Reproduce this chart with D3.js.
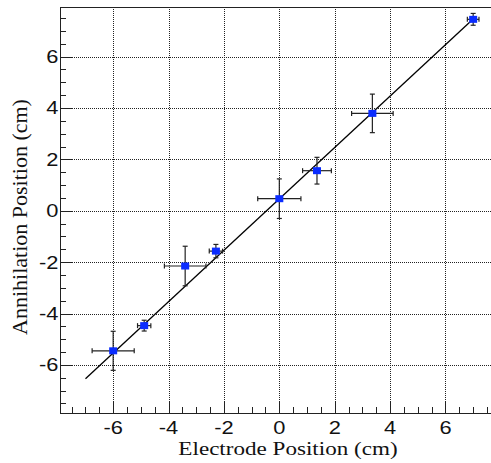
<!DOCTYPE html>
<html>
<head>
<meta charset="utf-8">
<script src="https://cdn.jsdelivr.net/npm/d3@7"></script>
<style>
  html, body { margin: 0; padding: 0; background: #ffffff; }
  svg { display: block; }
  .tick-label { font-family: "Liberation Sans", Arial, sans-serif; font-size: 17.5px; fill: #111; }
  .axis-title { font-family: "Liberation Serif", "Times New Roman", serif; font-size: 21px; fill: #111; }
</style>
</head>
<body>
<svg id="chart" width="491" height="463"></svg>
<script>
// Measured positions: electrode position vs reconstructed annihilation position (cm)
const electrodePos   = [-6.0, -4.88, -3.40, -2.29, 0.0, 1.36, 3.36, 7.0];
const electrodeErr   = [0.76, 0.24, 0.75, 0.24, 0.78, 0.52, 0.75, 0.21];
const annihilPos     = [-5.45, -4.47, -2.15, -1.57, 0.47, 1.56, 3.79, 7.45];
const annihilErr     = [0.76, 0.21, 0.77, 0.26, 0.77, 0.52, 0.75, 0.23];

// Linear fit y = slope * x + intercept, drawn over its fit range
const fitSlope = 1.0;
const fitIntercept = 0.46;
const fitRange = [-7.0, 7.0];

// Axis ticks
const majorTicks = [-6, -4, -2, 0, 2, 4, 6];
const minorTicks = d3.range(-7.5, 7.51, 0.5);
const xDomain = [-7.92, 7.68];
const yDomain = [-7.87, 7.93];

const svg = d3.select("#chart");
const frame = { left: 60, right: 492, top: 7, bottom: 413 };

const x = d3.scaleLinear().domain(xDomain).range([frame.left, frame.right]);
const y = d3.scaleLinear().domain(yDomain).range([frame.bottom, frame.top]);

// Dotted grid at the major ticks
const grid = svg.append("g").attr("stroke", "#222").attr("stroke-width", 1)
  .attr("stroke-dasharray", "1,1").attr("fill", "none");
majorTicks.forEach(v => {
  const px = Math.round(x(v)) + 0.5;
  grid.append("line").attr("x1", px).attr("x2", px).attr("y1", frame.top).attr("y2", frame.bottom);
  const py = Math.round(y(v)) + 0.5;
  grid.append("line").attr("x1", frame.left).attr("x2", frame.right).attr("y1", py).attr("y2", py);
});

// Frame
svg.append("rect")
  .attr("x", frame.left + 0.5).attr("y", frame.top + 0.5)
  .attr("width", frame.right - frame.left).attr("height", frame.bottom - frame.top)
  .attr("fill", "none").attr("stroke", "#222").attr("stroke-width", 1);

// Inward ticks on bottom (x) and left (y) axes
const majorLen = 12, minorLen = 6;
const ticksG = svg.append("g").attr("stroke", "#222").attr("stroke-width", 1);
minorTicks.forEach(v => {
  const isMajor = majorTicks.includes(v);
  const len = isMajor ? majorLen : minorLen;
  const px = Math.round(x(v)) + 0.5;
  ticksG.append("line").attr("x1", px).attr("x2", px)
    .attr("y1", frame.bottom).attr("y2", frame.bottom - len);
  const py = Math.round(y(v)) + 0.5;
  ticksG.append("line").attr("x1", frame.left).attr("x2", frame.left + len)
    .attr("y1", py).attr("y2", py);
});

// Tick labels
majorTicks.forEach(v => {
  svg.append("text").attr("class", "tick-label")
    .attr("text-anchor", "middle")
    .attr("transform", `translate(${x(v)},433.5) scale(1.25,1)`)
    .text(v);
  svg.append("text").attr("class", "tick-label")
    .attr("text-anchor", "end")
    .attr("transform", `translate(58.5,${y(v) + 6.4}) scale(1.25,1)`)
    .text(v);
});

// Axis titles
svg.append("text").attr("class", "axis-title")
  .attr("text-anchor", "middle")
  .attr("transform", "translate(288,454.5) scale(1.1,0.88)")
  .text("Electrode Position (cm)");
svg.append("text").attr("class", "axis-title")
  .attr("text-anchor", "middle")
  .style("font-size", "22px")
  .attr("transform", "translate(26.7,217) rotate(-90)")
  .text("Annihilation Position (cm)");

// Fit line
svg.append("line")
  .attr("x1", x(fitRange[0])).attr("y1", y(fitSlope * fitRange[0] + fitIntercept))
  .attr("x2", x(fitRange[1])).attr("y2", y(fitSlope * fitRange[1] + fitIntercept))
  .attr("stroke", "#000").attr("stroke-width", 1.3);

// Data points with error bars
const pts = electrodePos.map((xv, i) => ({
  x: xv, xe: electrodeErr[i], y: annihilPos[i], ye: annihilErr[i]
}));
const capLen = 2.5;
const eb = svg.append("g").attr("stroke", "#222").attr("stroke-width", 1.2);
pts.forEach(p => {
  const cx = x(p.x), cy = y(p.y);
  const xl = x(p.x - p.xe), xr = x(p.x + p.xe);
  const yt = y(p.y + p.ye), yb = y(p.y - p.ye);
  eb.append("line").attr("x1", xl).attr("x2", xr).attr("y1", cy).attr("y2", cy);
  eb.append("line").attr("x1", cx).attr("x2", cx).attr("y1", yt).attr("y2", yb);
  eb.append("line").attr("x1", xl).attr("x2", xl).attr("y1", cy - capLen).attr("y2", cy + capLen);
  eb.append("line").attr("x1", xr).attr("x2", xr).attr("y1", cy - capLen).attr("y2", cy + capLen);
  eb.append("line").attr("x1", cx - capLen).attr("x2", cx + capLen).attr("y1", yt).attr("y2", yt);
  eb.append("line").attr("x1", cx - capLen).attr("x2", cx + capLen).attr("y1", yb).attr("y2", yb);
});
svg.append("g").selectAll("rect").data(pts).join("rect")
  .attr("x", d => x(d.x) - 4).attr("y", d => y(d.y) - 3.5)
  .attr("width", 8).attr("height", 7)
  .attr("fill", "#0a2cff");
</script>
</body>
</html>
